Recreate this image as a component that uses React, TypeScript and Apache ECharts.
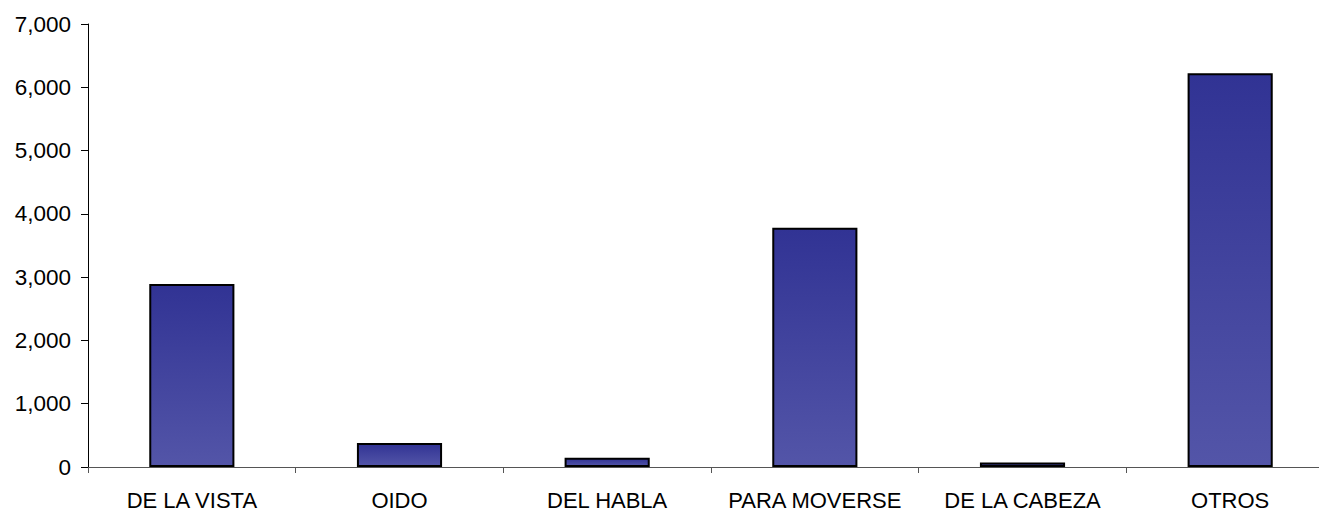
import React, { useEffect, useRef } from "react";
import * as echarts from "echarts";

const categories = ["DE LA VISTA", "OIDO", "DEL HABLA", "PARA MOVERSE", "DE LA CABEZA", "OTROS"];
const values = [2890, 380, 145, 3780, 70, 6220];
const yTicks = { min: 0, max: 7000, interval: 1000 };

export default function App() {
  const ref = useRef<HTMLDivElement>(null);
  useEffect(() => {
    const chart = echarts.init(ref.current!, undefined, { renderer: "svg" });
    const font = "'Liberation Sans', Arial, sans-serif";
    chart.setOption({
      animation: false,
      backgroundColor: "#ffffff",
      grid: { left: 88, top: 24, width: 1246, height: 443, containLabel: false },
      xAxis: {
        type: "category",
        data: categories,
        axisLine: { lineStyle: { color: "#555555", width: 1 } },
        axisTick: { show: true, length: 6, alignWithLabel: false, lineStyle: { color: "#555555" } },
        axisLabel: { color: "#000", fontSize: 22, fontFamily: font, margin: 22, interval: 0 },
        splitLine: { show: false },
      },
      yAxis: {
        type: "value",
        min: yTicks.min,
        max: yTicks.max,
        interval: yTicks.interval,
        axisLine: { show: true, lineStyle: { color: "#000", width: 1 } },
        axisTick: { show: true, length: 7, lineStyle: { color: "#000" } },
        axisLabel: {
          color: "#000",
          fontSize: 22.5,
          fontFamily: font,
          margin: 17,
          formatter: (v: number) => v.toLocaleString("en-US"),
        },
        splitLine: { show: false },
      },
      series: [
        {
          type: "bar",
          data: values,
          barWidth: "41%",
          itemStyle: {
            color: new echarts.graphic.LinearGradient(0, 0, 0, 1, [
              { offset: 0, color: "#313394" },
              { offset: 1, color: "#5355a8" },
            ]),
            borderColor: "#000",
            borderWidth: 2,
          },
        },
      ],
    });
    return () => chart.dispose();
  }, []);
  return (
    <div style={{ position: "absolute", left: 0, top: 0, width: 1319, height: 511, overflow: "hidden", background: "#fff" }}>
      <div ref={ref} style={{ width: 1345, height: 511 }} />
    </div>
  );
}
